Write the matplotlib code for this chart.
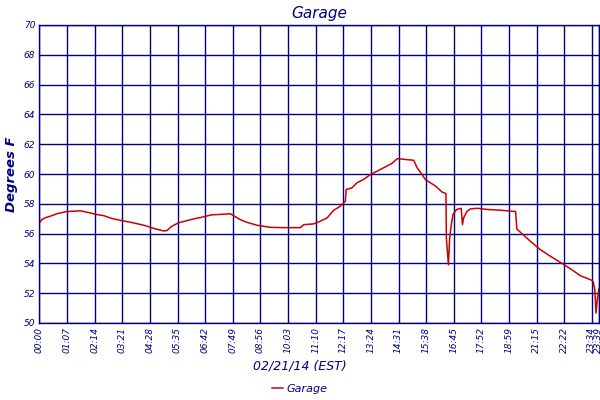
import matplotlib
matplotlib.use('Agg')
import matplotlib.pyplot as plt

# sample index (about one reading per minute) and temperature
amostras = [0, 6, 14, 30, 42, 66, 99, 123, 139, 155, 176, 200, 228, 256, 281, 301,
            309, 321, 337, 362, 378, 394, 418, 447, 463, 471, 487, 503, 528, 560,
            592, 633, 641, 665, 681, 698, 714, 730, 742, 744, 758, 770, 786, 803,
            819, 835, 855, 868, 908, 916, 928, 936, 948, 961, 977, 986, 987, 992,
            995, 999, 1003, 1012, 1023, 1026, 1029, 1037, 1046, 1062, 1086, 1118,
            1155, 1158, 1171, 1191, 1215, 1240, 1264, 1288, 1312, 1337, 1343, 1347,
            1350, 1353, 1357]
temperaturas = [56.72, 56.94, 57.06, 57.2, 57.33, 57.48, 57.53, 57.39, 57.28, 57.21,
                57.01, 56.87, 56.72, 56.54, 56.32, 56.18, 56.2, 56.49, 56.72, 56.9,
                57.01, 57.1, 57.26, 57.3, 57.33, 57.2, 56.94, 56.76, 56.56, 56.42,
                56.4, 56.4, 56.6, 56.65, 56.83, 57.06, 57.57, 57.84, 58.18, 58.96,
                59.07, 59.41, 59.63, 59.97, 60.19, 60.42, 60.71, 61.03, 60.92, 60.42,
                59.97, 59.63, 59.41, 59.19, 58.78, 58.69, 55.71, 53.91, 55.71, 56.6,
                57.28, 57.62, 57.7, 56.6, 57.06, 57.5, 57.66, 57.7, 57.62, 57.57,
                57.48, 56.3, 55.98, 55.48, 54.92, 54.47, 54.06, 53.64, 53.17, 52.9,
                52.79, 52.23, 50.66, 51.56, 52.28]

rotulos_x = ['00:00', '01:07', '02:14', '03:21', '04:28', '05:35', '06:42', '07:49',
             '08:56', '10:03', '11:10', '12:17', '13:24', '14:31', '15:38', '16:45',
             '17:52', '18:59', '21:15', '22:22', '23:34', '23:39']
posicoes_x = [i * 67 for i in range(21)] + [1357]
valores_y = [50, 52, 54, 56, 58, 60, 62, 64, 66, 68, 70]

azul = '#000080'
vermelho = '#cc0000'

fig = plt.figure(figsize=(6, 4), dpi=100)
ax = fig.add_axes([0.0657, 0.1925, 0.9325, 0.745])

linha, = ax.plot(amostras, temperaturas, color=vermelho, linewidth=1.1, label='Garage')

ax.set_xlim(0, 1357)
ax.set_ylim(50, 70)
ax.set_xticks(posicoes_x)
ax.set_xticklabels(rotulos_x, rotation=90, fontsize=6.5, style='italic', color=azul)
ax.set_yticks(valores_y)
ax.set_yticklabels([str(v) for v in valores_y], fontsize=6.5, style='italic', color=azul)
ax.tick_params(length=0, pad=3)
ax.grid(True, color=azul, linewidth=1)
ax.set_axisbelow(True)
for lado in ax.spines.values():
    lado.set_color(azul)
    lado.set_linewidth(1)

ax.set_title('Garage', fontsize=11, style='italic', color=azul, pad=5)
ax.set_ylabel('Degrees F', fontsize=9.5, style='italic', weight='bold', color=azul, labelpad=4)
fig.text(0.5, 0.085, '02/21/14 (EST)', ha='center', va='center', fontsize=9,
         style='italic', color=azul)

fig.legend(handles=[linha], loc='center', bbox_to_anchor=(0.5, 0.027), frameon=False,
           handlelength=1.0, handletextpad=0.3,
           prop={'size': 8, 'style': 'italic'}, labelcolor=azul)

fig.savefig('out.png', dpi=100)
